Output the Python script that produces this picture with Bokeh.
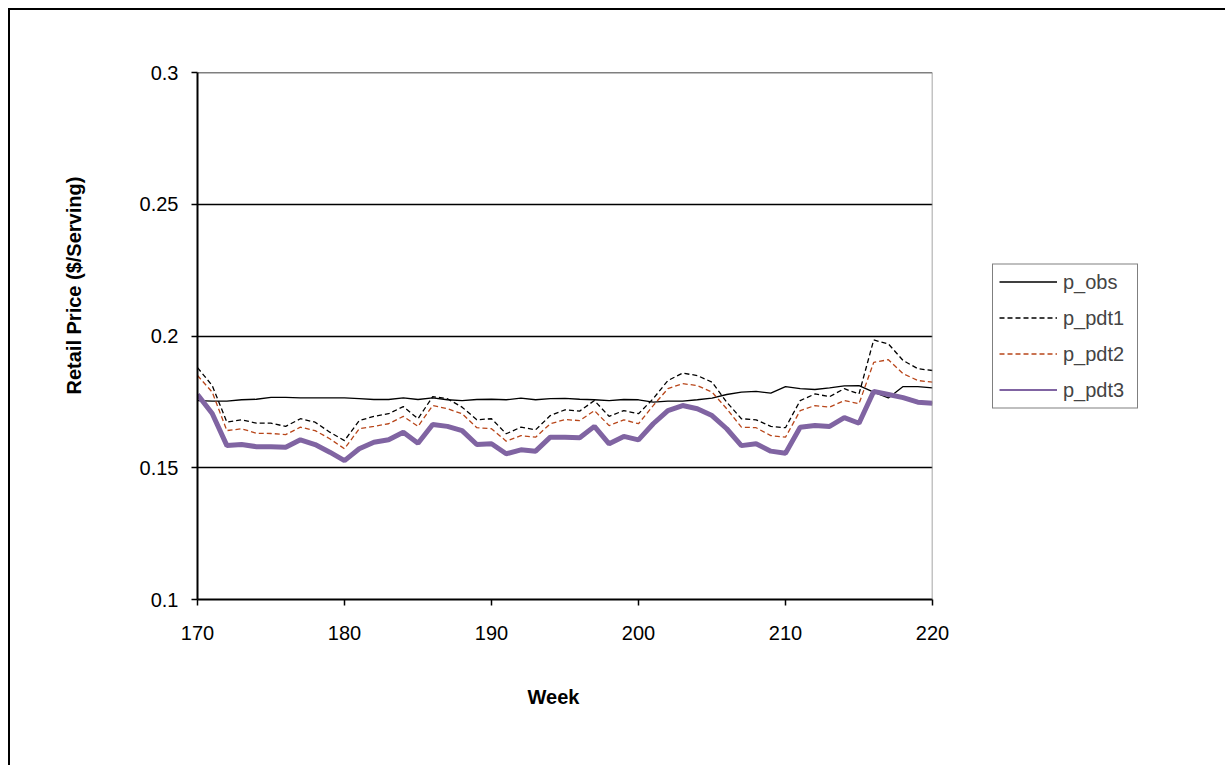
from bokeh.plotting import figure
from bokeh.models import Legend, LegendItem, FixedTicker, Span, Title
from bokeh.embed import file_html
from bokeh.resources import INLINE

weeks = list(range(170, 221))

p_obs = [0.1755, 0.1753, 0.1753, 0.1758, 0.1760, 0.1767, 0.1767, 0.1765, 0.1765, 0.1765,
         0.1765, 0.1762, 0.1759, 0.1759, 0.1765, 0.1759, 0.1765, 0.1758, 0.1755, 0.1759,
         0.1760, 0.1758, 0.1764, 0.1758, 0.1762, 0.1763, 0.1760, 0.1758, 0.1755, 0.1759,
         0.1758, 0.1749, 0.1753, 0.1753, 0.1758, 0.1764, 0.1778, 0.1787, 0.1790, 0.1783,
         0.1808, 0.1800, 0.1797, 0.1803, 0.1811, 0.1812, 0.1787, 0.1765, 0.1808, 0.1808,
         0.1803]

p_pdt1 = [0.1880, 0.1812, 0.1673, 0.1682, 0.1669, 0.1669, 0.1657, 0.1686, 0.1673, 0.1635,
          0.1603, 0.1679, 0.1695, 0.1705, 0.1732, 0.1686, 0.1770, 0.1762, 0.1730, 0.1682,
          0.1686, 0.1629, 0.1654, 0.1644, 0.1698, 0.1720, 0.1715, 0.1755, 0.1695, 0.1717,
          0.1705, 0.1762, 0.1831, 0.1859, 0.1850, 0.1825, 0.1749, 0.1686, 0.1682, 0.1657,
          0.1652, 0.1755, 0.1780, 0.1770, 0.1800, 0.1780, 0.1985, 0.1970, 0.1907, 0.1876,
          0.1869]

p_pdt2 = [0.1850, 0.1787, 0.1641, 0.1648, 0.1631, 0.1630, 0.1626, 0.1654, 0.1641, 0.1610,
          0.1572, 0.1648, 0.1657, 0.1667, 0.1695, 0.1657, 0.1736, 0.1724, 0.1705, 0.1652,
          0.1648, 0.1601, 0.1622, 0.1616, 0.1667, 0.1683, 0.1679, 0.1717, 0.1660, 0.1682,
          0.1667, 0.1736, 0.1800, 0.1819, 0.1812, 0.1787, 0.1724, 0.1654, 0.1652, 0.1622,
          0.1616, 0.1717, 0.1736, 0.1730, 0.1755, 0.1743, 0.1900, 0.1910, 0.1857, 0.1831,
          0.1825]

p_pdt3 = [0.1778, 0.1706, 0.1584, 0.1588, 0.1580, 0.1580, 0.1578, 0.1606, 0.1588, 0.1559,
          0.1527, 0.1572, 0.1597, 0.1606, 0.1635, 0.1593, 0.1664, 0.1657, 0.1641, 0.1588,
          0.1591, 0.1553, 0.1568, 0.1563, 0.1616, 0.1616, 0.1614, 0.1657, 0.1591, 0.1619,
          0.1606, 0.1667, 0.1717, 0.1736, 0.1724, 0.1698, 0.1648, 0.1584, 0.1591, 0.1563,
          0.1555, 0.1654, 0.1660, 0.1657, 0.1690, 0.1669, 0.1790, 0.1778, 0.1766, 0.1749,
          0.1745]

x_ticks = [170, 180, 190, 200, 210, 220]
y_ticks = [0.1, 0.15, 0.2, 0.25, 0.3]
y_tick_labels = {0.1: "0.1", 0.15: "0.15", 0.2: "0.2", 0.25: "0.25", 0.3: "0.3"}

FONT = "Liberation Sans"
FS = "20px"

p = figure(frame_width=735, frame_height=527, x_range=(170, 220), y_range=(0.1, 0.3),
           output_backend="svg", toolbar_location=None,
           min_border_left=187, min_border_top=62, min_border_right=20,
           min_border_bottom=166)
p.styles = {"border-left": "2px solid black", "border-top": "2px solid black",
            "border-right": "2px solid black", "margin-left": "8px", "margin-top": "8px"}

p.background_fill_color = "white"
p.border_fill_color = "white"
p.outline_line_color = None

# axes
for ax in (p.xaxis[0], p.yaxis[0]):
    ax.axis_line_color = "black"
    ax.axis_line_width = 2
    ax.major_tick_line_color = "black"
    ax.major_tick_line_width = 1.5
    ax.major_tick_out = 6
    ax.major_tick_in = 0
    ax.minor_tick_line_color = None
    ax.major_label_text_font = FONT
    ax.major_label_text_font_size = FS
    ax.major_label_text_color = "black"

p.xaxis.ticker = FixedTicker(ticks=x_ticks)
p.yaxis.ticker = FixedTicker(ticks=y_ticks)
p.yaxis.major_label_overrides = y_tick_labels
p.xaxis.major_label_standoff = 20
p.yaxis.major_label_standoff = 13

# axis titles (placed like the original, off-centre)
y_title = Title(text="Retail Price ($/Serving)", align="left", offset=205,
                standoff=101, vertical_align="middle",
                text_font=FONT, text_font_size=FS, text_font_style="bold",
                text_color="black")
p.add_layout(y_title, "left")
x_title = Title(text="Week", align="left", offset=330, standoff=84,
                vertical_align="middle",
                text_font=FONT, text_font_size=FS, text_font_style="bold",
                text_color="black")
p.add_layout(x_title, "below")

p.xgrid.grid_line_color = None
p.ygrid.ticker = FixedTicker(ticks=[0.15, 0.2, 0.25])
p.ygrid.grid_line_color = "black"
p.ygrid.grid_line_width = 1.5

p.add_layout(Span(location=0.3, dimension="width", line_color="black", line_width=1.5))
p.add_layout(Span(location=220, dimension="height", line_color="#888888", line_width=1.5))

r_obs = p.line(weeks, p_obs, line_color="black", line_width=1.3)
r_1 = p.line(weeks, p_pdt1, line_color="black", line_width=1.3, line_dash="5 3")
r_2 = p.line(weeks, p_pdt2, line_color="#b8461a", line_width=1.3, line_dash="5 3")
# thin copy of p_pdt3 under the thick line, used as its legend swatch
r_3_key = p.line(weeks, p_pdt3, line_color="#8064a2", line_width=2)
r_3 = p.line(weeks, p_pdt3, line_color="#8064a2", line_width=5)

legend = Legend(items=[LegendItem(label="p_obs", renderers=[r_obs]),
                       LegendItem(label="p_pdt1", renderers=[r_1]),
                       LegendItem(label="p_pdt2", renderers=[r_2]),
                       LegendItem(label="p_pdt3", renderers=[r_3_key])],
                location="left")
legend.border_line_color = "black"
legend.border_line_width = 1.5
legend.background_fill_color = "white"
legend.background_fill_alpha = 1
legend.label_text_font = FONT
legend.label_text_font_size = FS
legend.glyph_width = 58
legend.glyph_height = 20
legend.label_height = 20
legend.label_width = 68
legend.spacing = 13
legend.padding = 6
legend.margin = 60
legend.label_standoff = 6
p.add_layout(legend, "right")

open("out.html", "w").write(file_html(p, INLINE))
